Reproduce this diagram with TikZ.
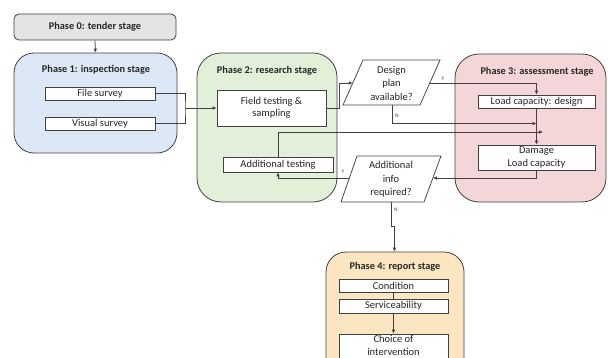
\documentclass[tikz,border=0pt]{standalone}
\usepackage{fontspec}
\setmainfont{Carlito}
\usetikzlibrary{arrows.meta}
\definecolor{ln}{HTML}{404040}
\definecolor{txt}{HTML}{262626}
\definecolor{gr0}{HTML}{E4E4E4}
\definecolor{bl1}{HTML}{DCE8F5}
\definecolor{gn2}{HTML}{E2EFD9}
\definecolor{pk3}{HTML}{F4D6D8}
\definecolor{yl4}{HTML}{FCE6C2}
\begin{document}
\begin{tikzpicture}[x=1pt,y=-1pt,
  phase/.style={draw=ln, line width=0.8pt, rounded corners=20pt, inner sep=0pt},
  ibox/.style={draw=ln, fill=white, line width=0.75pt, inner sep=0pt, text=txt,
    font=\fontsize{10.5}{12.5}\selectfont, align=center},
  ttl/.style={font=\bfseries\fontsize{10.3}{12}\selectfont, text=txt, inner sep=0pt},
  ptext/.style={font=\fontsize{10.5}{13.5}\selectfont, text=txt, align=center, inner sep=0pt},
  conn/.style={draw=ln, line width=0.75pt},
  arr/.style={conn, -{Latex[length=4pt,width=3.6pt]}},
  yn/.style={font=\fontsize{5.5}{6}\selectfont, text=ln, inner sep=0pt}]
\useasboundingbox (0,0) rectangle (608,358);
\clip (0,0) rectangle (608,358);

% phase boxes
\node[phase, fill=gr0, rounded corners=5pt, minimum width=162pt, minimum height=26pt] (p0) at (95,27) {};
\node[ttl] (t0) at (95,27) {Phase 0: tender stage};
\node[phase, fill=bl1, minimum width=163pt, minimum height=100pt] (p1) at (95.5,103) {};
\node[ttl] (t1) at (96,70) {Phase 1: inspection stage};
\node[phase, fill=gn2, rounded corners=24pt, minimum width=140pt, minimum height=149pt] (p2) at (267,127.5) {};
\node[ttl] (t2) at (267,71) {Phase 2: research stage};
\node[phase, fill=pk3, rounded corners=24pt, minimum width=151pt, minimum height=148pt] (p3) at (530.5,128) {};
\node[ttl] (t3) at (537,72) {Phase 3: assessment stage};
\node[phase, fill=yl4, rounded corners=20pt, minimum width=138pt, minimum height=130pt] (p4) at (395,317) {};
\node[ttl] (t4) at (395,267) {Phase 4: report stage};

% inner boxes
\node[ibox, minimum width=110pt, minimum height=13pt] (file) at (100,93.5) {File survey};
\node[ibox, minimum width=110pt, minimum height=13pt] (vis) at (100,123.5) {Visual survey};
\node[ibox, minimum width=109pt, minimum height=36pt] (field) at (271.5,108) {Field testing \&\\sampling};
\node[ibox, minimum width=110pt, minimum height=15pt] (addt) at (278,164.5) {Additional testing};
\node[ibox, minimum width=117pt, minimum height=13pt] (lcd) at (536.5,101.5) {Load capacity: design};
\node[ibox, minimum width=117pt, minimum height=25pt] (dam) at (536.5,157.5) {Damage\\Load capacity};
\node[ibox, minimum width=109pt, minimum height=13pt] (cond) at (393.5,285.5) {Condition};
\node[ibox, minimum width=109pt, minimum height=14pt] (serv) at (393.5,306) {Serviceability};
\node[ibox, minimum width=109pt, minimum height=30pt] (choice) at (393.5,349) {};
\node[ibox, draw=none, fill=none, font=\fontsize{10.5}{13}\selectfont] (choicet) at (393.5,345.5) {Choice of\\intervention};

% decision parallelograms
\draw[conn, fill=white] (343,105) -- (420,105) -- (440,60) -- (363,60) -- cycle;
\node[ptext] (dp) at (391.5,83) {Design\\plan\\available?};
\coordinate (dpL) at (352.8,83);
\coordinate (dpR) at (429.8,83);
\coordinate (dpB) at (392,105);

\draw[conn, fill=white] (341,202) -- (424,202) -- (441,156) -- (357,156) -- cycle;
\node[ptext] (ai) at (391,179.5) {Additional\\info\\required?};
\coordinate (aiL) at (349.3,178);
\coordinate (aiR) at (432.9,178);
\coordinate (aiB) at (391,202);

% connectors
\draw[arr] (p0.south) -- (p1.north);
\coordinate (brk) at (185,108);
\draw[conn] (file.east) -| (brk) |- (vis.east);
\draw[arr] (brk) -- (field.west);
\draw[arr] (field.east) -- ++(13,0) |- (dpL);
\draw[arr] (dpR) -| (lcd.north);
\node[yn] (ylab1) at (443,79) {Y};
\coordinate (n1end) at (536.5,123.5);
\draw[arr] (dpB) |- (n1end);
\node[yn] (nlab1) at (397,116) {N};
\coordinate (a1end) at (543,132);
\draw[arr] (addt.north) |- (a1end);
\draw[arr] (lcd.south) -- (dam.north);
\draw[arr] (dam.south) |- (aiR);
\draw[arr] (aiL) -| (addt.south);
\node[yn] (ylab2) at (343,172) {Y};
\draw[arr] (aiB) -- (391,226) -- (394.5,226) -- (p4.north -| 394.5,0);
\node[yn] (nlab2) at (396,210) {N};
\draw[conn] (cond.south) -- (serv.north);
\draw[arr] (serv.south) -- (choice.north);
\end{tikzpicture}
\end{document}
